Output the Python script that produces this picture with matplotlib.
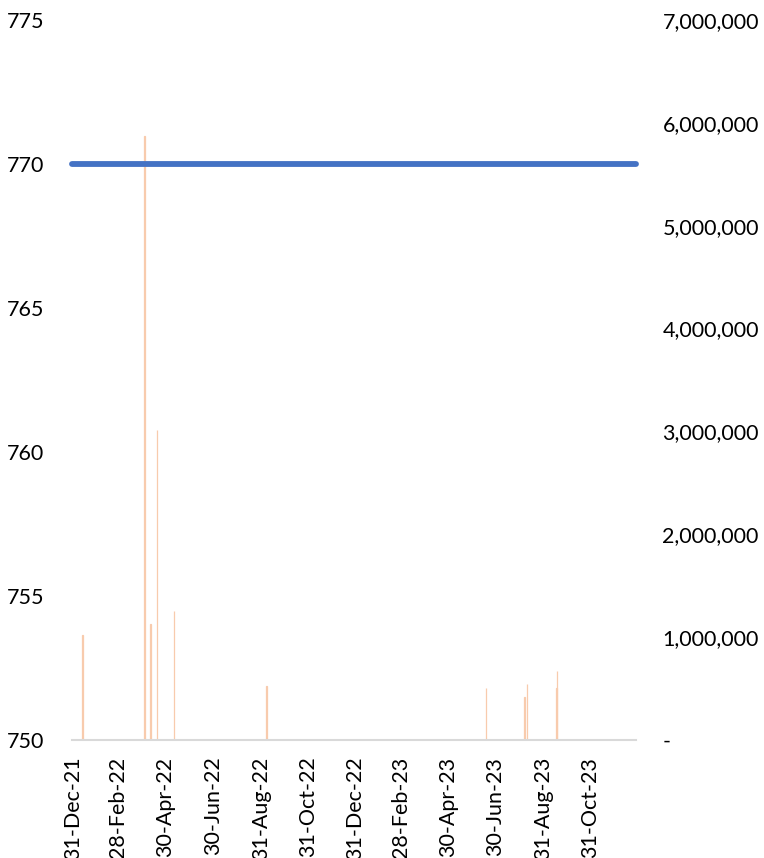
import matplotlib
matplotlib.use("Agg")
import matplotlib.pyplot as plt
import matplotlib.dates as mdates
import matplotlib.ticker as mticker
import numpy as np
import pandas as pd

plt.rcParams['font.family'] = ['Lato', 'DejaVu Sans']

# Price series (left axis)
price_dates = ["2021-12-30", "2023-12-29"]
price_values = [770, 770]

# Traded volume (right axis)
volume_dates = ["2022-01-13", "2022-04-03", "2022-04-10", "2022-04-19",
                "2022-05-11", "2022-09-07", "2023-06-18", "2023-08-07",
                "2023-08-10", "2023-09-17", "2023-09-18"]
volume_values = [1020000, 5870000, 1130000, 3010000,
                 1250000, 525000, 510000, 420000,
                 540000, 510000, 670000]

tick_dates = ["2021-12-31", "2022-02-28", "2022-04-30", "2022-06-30",
              "2022-08-31", "2022-10-31", "2022-12-31", "2023-02-28",
              "2023-04-30", "2023-06-30", "2023-08-31", "2023-10-31"]

price_dates = pd.to_datetime(price_dates)
volume_dates = pd.to_datetime(volume_dates)
tick_dates = pd.to_datetime(tick_dates)

fig = plt.figure(figsize=(7.64, 8.58), dpi=100)
ax = fig.add_axes([0.0942, 0.1375, 0.8325 - 0.0942, 0.9767 - 0.1375])
ax2 = ax.twinx()

# volume bars behind the price line
ax.set_zorder(ax2.get_zorder() + 1)
ax.patch.set_visible(False)

ax2.bar(volume_dates, volume_values, width=1.0, color="#F8CBAD",
        edgecolor="#F8CBAD", linewidth=0.9, align="center")

ax.plot(price_dates, price_values, color="#4472C4", linewidth=4.2,
        solid_capstyle="round", clip_on=False)

ax.set_ylim(750, 775)
ax.set_yticks([750, 755, 760, 765, 770, 775])
ax2.set_ylim(0, 7000000)
ax2.set_yticks(np.arange(0, 7000001, 1000000))
ax2.yaxis.set_major_formatter(mticker.FuncFormatter(
    lambda v, p: "-" if v == 0 else f"{int(v):,}"))

ax.set_xlim(price_dates[0], price_dates[-1])
ax.set_xticks(tick_dates)
ax.xaxis.set_major_formatter(mdates.DateFormatter("%d-%b-%y"))

for a in (ax, ax2):
    for s in a.spines.values():
        s.set_visible(False)
ax.spines["bottom"].set_visible(True)
ax.spines["bottom"].set_color("#D9D9D9")
ax.spines["bottom"].set_linewidth(1.5)

ax.tick_params(axis="y", length=0, pad=20, labelsize=15.5, labelcolor="black")
ax2.tick_params(axis="y", length=0, pad=19, labelsize=15.5, labelcolor="black")
ax.tick_params(axis="x", length=0, pad=12, labelsize=15.5, labelrotation=90)
for lbl in ax.get_xticklabels():
    lbl.set_horizontalalignment("center")
for lbl in ax2.get_yticklabels():
    lbl.set_horizontalalignment("left")

fig.savefig("out.png", dpi=100, facecolor="white")
